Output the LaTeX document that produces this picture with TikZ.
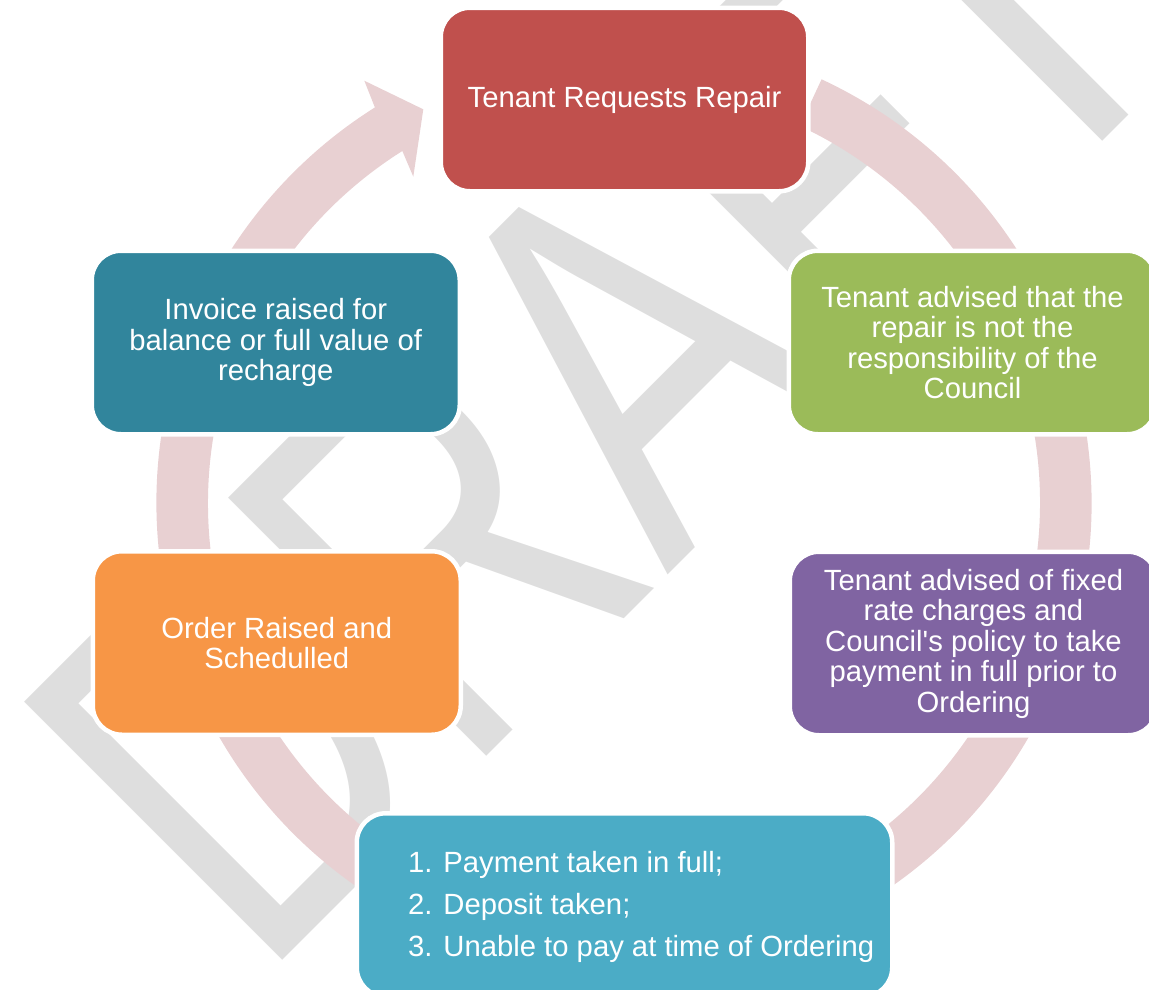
\documentclass[tikz,border=0pt]{standalone}
\usepackage{fontspec}
\setmainfont{Liberation Sans}[Ligatures=TeXOff]
\newfontfamily\wmfont{Liberation Sans}[FakeStretch=0.7537,Kerning=Off]
\usetikzlibrary{calc}
\definecolor{cRed}{HTML}{C0504D}
\definecolor{cTeal}{HTML}{31859C}
\definecolor{cGreen}{HTML}{9BBB59}
\definecolor{cOrange}{HTML}{F79646}
\definecolor{cPurple}{HTML}{8064A2}
\definecolor{cCyan}{HTML}{4BACC6}
\definecolor{cRing}{HTML}{E8D0D2}
\definecolor{cWm}{HTML}{DEDEDE}
\tikzset{
  wm/.style={text=cWm, inner sep=0pt, anchor=base west, rotate=45,
    font=\wmfont\fontsize{530.7}{600}\selectfont},
  cbox/.style={draw=white, line width=4.5pt, rounded corners=29.25pt,
    minimum height=183.5pt, inner sep=0pt, text=white, align=center,
    font=\fontsize{29.25}{30.5}\selectfont},
  itemtext/.style={text=white, inner sep=0pt, anchor=base west,
    font=\fontsize{29.25}{35}\selectfont}
}
\begin{document}
\begin{tikzpicture}[x=1pt,y=-1pt]
\useasboundingbox (0,0) rectangle (1149,989);
\clip (0,0) rectangle (1149,989);
% watermark
\node[wm] (draft) at (259,984) {DRAFT};
% circular arrow
\coordinate (c) at (624,503);
\coordinate (h1) at (364.3,80.7);
\coordinate (h2) at (423.3,109.3);
\coordinate (h3) at (413.3,176.7);
\fill[cRing] ($(c)+(-65:467.5)$) arc[start angle=-65,end angle=237.8,radius=467.5]
  -- (h1) -- (h2) -- (h3) -- ($(c)+(237.8:416)$)
  arc[start angle=237.8,end angle=-65,radius=416] -- cycle;
% boxes
\node[cbox, fill=cRed, minimum width=367.5pt] (req) at (624.5,99.5) {Tenant Requests Repair};
\node[cbox, fill=cGreen, minimum width=367.5pt] (notresp) at (972.5,342.5)
  {Tenant advised that the\\repair is not the\\responsibility of the\\Council};
\node[cbox, fill=cPurple, minimum width=367.5pt] (fixed) at (973.5,643.5)
  {Tenant advised of fixed\\rate charges and\\Council's policy to take\\payment in full prior to\\Ordering};
\node[cbox, fill=cCyan, minimum width=535.5pt] (pay) at (624.5,905) {};
\node[cbox, fill=cOrange, minimum width=368pt] (order) at (276.75,643) {Order Raised and\\Schedulled};
\node[cbox, fill=cTeal, minimum width=368pt] (invoice) at (275.75,342.5)
  {Invoice raised for\\balance or full value of\\recharge};
\node[itemtext] (pay1) at (408,872) {1. Payment taken in full;};
\node[itemtext] (pay2) at (408,914) {2. Deposit taken;};
\node[itemtext] (pay3) at (408,956) {3. Unable to pay at time of Ordering};
\end{tikzpicture}
\end{document}
